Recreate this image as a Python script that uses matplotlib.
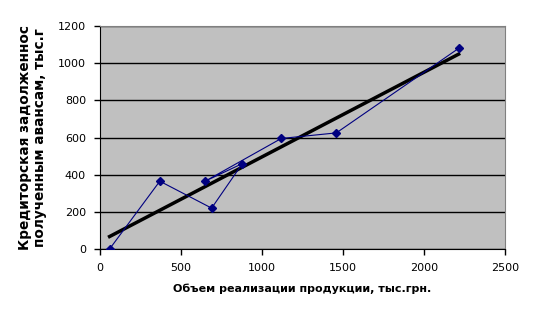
import numpy as np
import matplotlib
matplotlib.use('Agg')
import matplotlib.pyplot as plt

# объем реализации и кредиторская задолженность
sales = [60, 370, 690, 880, 650, 1120, 1460, 2215]
debt = [0, 365, 220, 460, 365, 595, 625, 1080]
xticks = [0, 500, 1000, 1500, 2000, 2500]
yticks = [0, 200, 400, 600, 800, 1000, 1200]

fig = plt.figure(figsize=(5.37, 3.18), dpi=100)
ax = fig.add_axes([0.186, 0.217, 0.754, 0.701])
ax.set_facecolor('#C0C0C0')

ax.plot(sales, debt, color='#000080', lw=0.8, marker='D', ms=4.5, zorder=3)

# линейный тренд
k, b = np.polyfit(sales, debt, 1)
tx = np.array([min(sales), max(sales)])
ax.plot(tx, k * tx + b, color='black', lw=2.5, zorder=2)

ax.set_xlim(0, 2500)
ax.set_ylim(0, 1200)
ax.set_xticks(xticks)
ax.set_yticks(yticks)
ax.yaxis.grid(True, color='black', lw=1)
ax.set_axisbelow(True)
ax.tick_params(direction='out', length=4, width=1, labelsize=8, pad=6)

for s in ['top', 'right']:
    ax.spines[s].set_color('#808080')
for s in ['left', 'bottom']:
    ax.spines[s].set_color('black')

ax.set_xlabel('Объем реализации продукции, тыс.грн.', fontsize=8,
              fontweight='bold', labelpad=8)
ax.set_ylabel('Кредиторская задолженнос\nполученным авансам, тыс.г', fontsize=9.8,
              fontweight='bold', labelpad=8, linespacing=1.05)

fig.savefig('out.png', dpi=100)
